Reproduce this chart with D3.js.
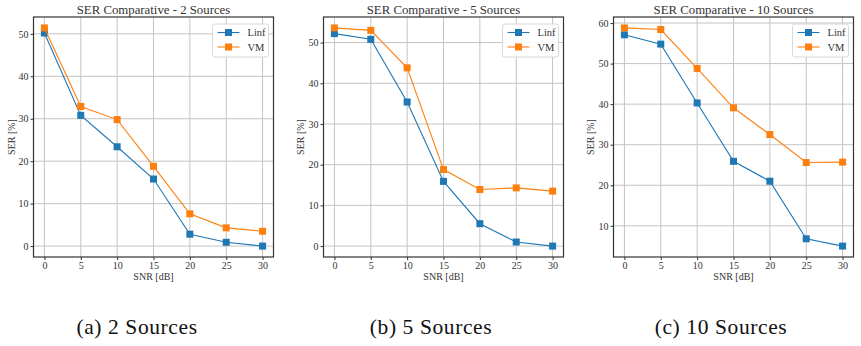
<!DOCTYPE html>
<html>
<head>
<meta charset="utf-8">
<script src="https://cdn.jsdelivr.net/npm/d3@7"></script>
<style>
  html, body { margin: 0; padding: 0; background: #fff; }
  svg { display: block; }
</style>
</head>
<body>
<svg id="chart" width="861" height="346"></svg>
<script>
// ---- Data ----
const snr = [0, 5, 10, 15, 20, 25, 30];
const xTicks = [0, 5, 10, 15, 20, 25, 30];

const titles = ["SER Comparative - 2 Sources", "SER Comparative - 5 Sources", "SER Comparative - 10 Sources"];
const captions = ["(a) 2 Sources", "(b) 5 Sources", "(c) 10 Sources"];
const seriesNames = ["Linf", "VM"];

const linf2 = [50.2, 30.8, 23.4, 15.8, 2.8, 0.9, 0.0];
const vm2   = [51.4, 32.9, 29.8, 18.8, 7.6, 4.3, 3.5];
const linf5 = [52.2, 50.8, 35.4, 15.9, 5.5, 1.0, 0.0];
const vm5   = [53.6, 53.0, 43.8, 18.8, 13.9, 14.3, 13.5];
const linf10 = [57.1, 54.8, 40.3, 25.9, 21.0, 6.8, 5.0];
const vm10   = [58.8, 58.4, 48.8, 39.1, 32.5, 25.6, 25.7];

const yTicks2 = [0, 10, 20, 30, 40, 50];
const yTicks5 = [0, 10, 20, 30, 40, 50];
const yTicks10 = [10, 20, 30, 40, 50, 60];

const colors = ["#1f77b4", "#ff7f0e"];
const FONT = "'Liberation Serif', 'DejaVu Serif', 'Noto Serif', 'Times New Roman', Times, serif";

const panels = [
  { series: [linf2, vm2], yTicks: yTicks2, left: 33.5, captionX: 137, ylabX: 11.5 },
  { series: [linf5, vm5], yTicks: yTicks5, left: 323.5, captionX: 431, ylabX: 300 },
  { series: [linf10, vm10], yTicks: yTicks10, left: 613.5, captionX: 721, ylabX: 590 }
];

const svg = d3.select("#chart");
const W = 240, plotTop = 17, plotBottom = 257;

panels.forEach((p, i) => {
  const all = p.series.flat();
  const ymin = d3.min(all), ymax = d3.max(all);
  const ym = (ymax - ymin) * 0.05;
  const x = d3.scaleLinear().domain([-1.5, 31.5]).range([p.left, p.left + W]);
  const y = d3.scaleLinear().domain([ymin - ym, ymax + ym]).range([plotBottom, plotTop]);
  const g = svg.append("g");

  // grid
  g.append("g").selectAll("line").data(xTicks).join("line")
    .attr("x1", d => x(d)).attr("x2", d => x(d))
    .attr("y1", plotTop).attr("y2", plotBottom)
    .attr("stroke", "#c4c4c4").attr("stroke-width", 1);
  g.append("g").selectAll("line").data(p.yTicks).join("line")
    .attr("y1", d => y(d)).attr("y2", d => y(d))
    .attr("x1", p.left).attr("x2", p.left + W)
    .attr("stroke", "#c4c4c4").attr("stroke-width", 1);

  // axes
  const xAxis = d3.axisBottom(x).tickValues(xTicks).tickSize(3).tickPadding(2).tickFormat(d3.format("d"));
  const yAxis = d3.axisLeft(y).tickValues(p.yTicks).tickSize(3).tickPadding(2).tickFormat(d3.format("d"));
  const gx = g.append("g").attr("transform", `translate(0,${plotBottom})`).call(xAxis);
  const gy = g.append("g").attr("transform", `translate(${p.left},0)`).call(yAxis);
  [gx, gy].forEach(a => {
    a.attr("font-family", null).attr("font-size", null);
    a.select(".domain").remove();
    a.selectAll(".tick line").attr("stroke", "#333");
    a.selectAll(".tick text").attr("fill", "#333").style("font-size", "10px")
      .style("font-family", FONT);
  });

  // frame
  g.append("rect").attr("x", p.left).attr("y", plotTop).attr("width", W).attr("height", plotBottom - plotTop)
    .attr("fill", "none").attr("stroke", "#333").attr("stroke-width", 1.2);

  // lines & markers
  const line = d3.line().x((d, k) => x(snr[k])).y(d => y(d));
  p.series.forEach((s, si) => {
    g.append("path").datum(s).attr("d", line).attr("fill", "none")
      .attr("stroke", colors[si]).attr("stroke-width", 1.1);
    g.append("g").selectAll("rect").data(s).join("rect")
      .attr("x", (d, k) => x(snr[k]) - 3.5).attr("y", d => y(d) - 3.5)
      .attr("width", 7).attr("height", 7).attr("fill", colors[si]);
  });

  // title
  g.append("text").attr("x", p.left + W / 2).attr("y", 14).attr("text-anchor", "middle")
    .style("font-family", FONT).style("font-size", "12.8px").attr("fill", "#333").text(titles[i]);
  // x label
  g.append("text").attr("x", p.left + W / 2).attr("y", 280).attr("text-anchor", "middle")
    .style("font-family", FONT).style("font-size", "10px").attr("fill", "#333").text("SNR [dB]");
  // y label
  g.append("text").attr("transform", `translate(${p.ylabX},${(plotTop + plotBottom) / 2}) rotate(-90)`)
    .attr("text-anchor", "middle").attr("dominant-baseline", "central")
    .style("font-family", FONT).style("font-size", "10px").attr("fill", "#333").text("SER [%]");

  // legend
  const lw = 56, lh = 33;
  const lx = p.left + W - 5 - lw, ly = plotTop + 7;
  const lg = g.append("g");
  lg.append("rect").attr("x", lx).attr("y", ly).attr("width", lw).attr("height", lh)
    .attr("rx", 2.5).attr("fill", "rgba(255,255,255,0.85)").attr("stroke", "#d8d8d8").attr("stroke-width", 1);
  seriesNames.forEach((n, si) => {
    const ry = ly + 8.5 + si * 14.5;
    lg.append("line").attr("x1", lx + 5).attr("x2", lx + 27).attr("y1", ry).attr("y2", ry)
      .attr("stroke", colors[si]).attr("stroke-width", 1.1);
    lg.append("rect").attr("x", lx + 16 - 3.5).attr("y", ry - 3.5).attr("width", 7).attr("height", 7)
      .attr("fill", colors[si]);
    lg.append("text").attr("x", lx + 35).attr("y", ry).attr("dominant-baseline", "central")
      .style("font-family", FONT).style("font-size", "10.5px").attr("fill", "#333").text(n);
  });

  // caption
  svg.append("text").attr("x", p.captionX).attr("y", 334).attr("text-anchor", "middle")
    .style("font-family", FONT).style("font-size", "21.5px").style("letter-spacing", "0.6px")
    .attr("fill", "#111").text(captions[i]);
});
</script>
</body>
</html>
